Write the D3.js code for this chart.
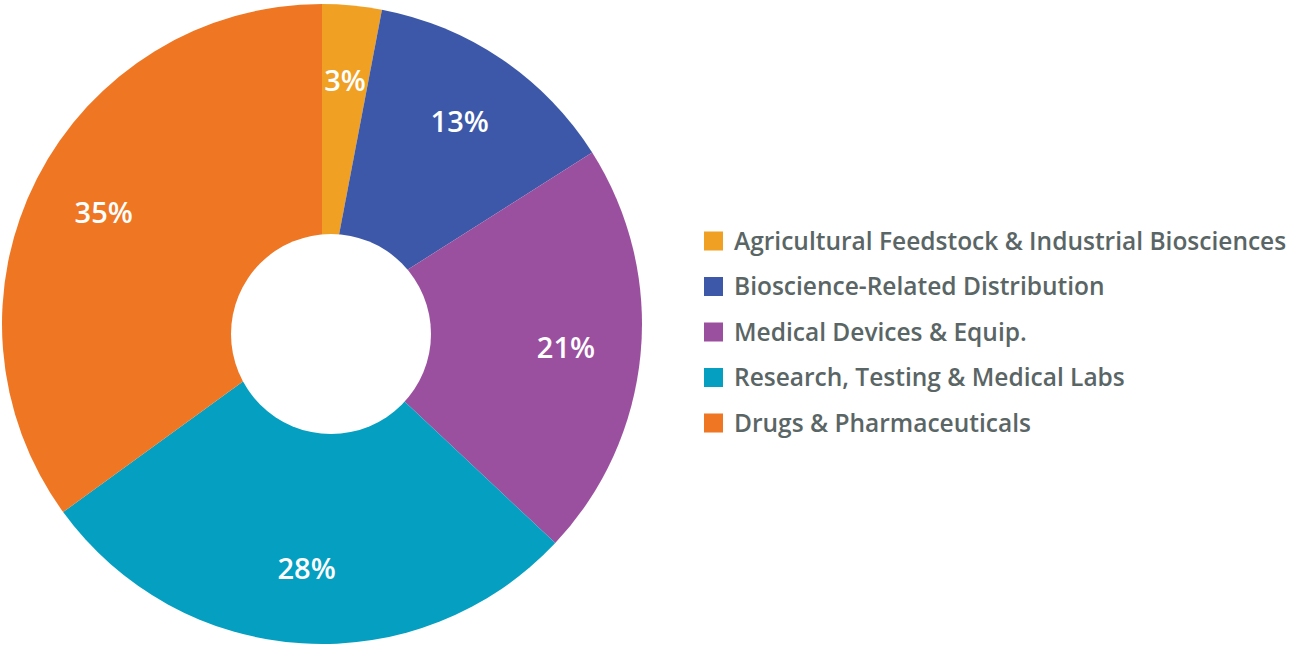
<!DOCTYPE html>
<html>
<head>
<meta charset="utf-8">
<script src="https://cdn.jsdelivr.net/npm/d3@7"></script>
<style>
  html, body { margin: 0; padding: 0; background: #fff; }
  #chart { width: 1289px; height: 646px; }
</style>
</head>
<body>
<div id="chart"></div>
<script>
//Datos
const categories = [
    'Agricultural Feedstock & Industrial Biosciences',
    'Bioscience-Related Distribution',
    'Medical Devices & Equip.',
    'Research, Testing & Medical Labs',
    'Drugs & Pharmaceuticals'
];
const values = [3, 13, 21, 28, 35];

//Colores
const colors = ['#F0A023', '#3D58A8', '#9B509F', '#049FC1', '#EF7622'];
const TEXT_COLOR = '#5A6565';

let width = 1289, height = 646;
let cx = 322, cy = 324, radius = 320;

let svg = d3.select('#chart')
    .append('svg')
    .attr('width', width)
    .attr('height', height);

let data = categories.map((c, i) => ({ name: c, value: values[i] }));

let color = d3.scaleOrdinal()
    .domain(categories)
    .range(colors);

let pie = d3.pie()
    .sort(null)
    .value(d => d.value);

let arc = d3.arc().innerRadius(0).outerRadius(radius);
let labelArc = d3.arc().innerRadius(245).outerRadius(245);

let g = svg.append('g')
    .attr('transform', 'translate(' + cx + ',' + cy + ')');

g.selectAll('path')
    .data(pie(data))
    .enter()
    .append('path')
    .attr('d', arc)
    .attr('fill', d => color(d.data.name));

//Agujero (ligeramente desplazado en el original)
g.append('circle')
    .attr('cx', 9)
    .attr('cy', 10)
    .attr('r', 100)
    .attr('fill', '#fff');

g.selectAll('text.pct')
    .data(pie(data))
    .enter()
    .append('text')
    .attr('class', 'pct')
    .attr('transform', d => 'translate(' + labelArc.centroid(d) + ')')
    .attr('text-anchor', 'middle')
    .attr('dy', '0.36em')
    .style('font-family', '"Open Sans", sans-serif')
    .style('font-weight', 600)
    .style('font-size', '29px')
    .style('fill', '#fff')
    .text(d => d.data.value + '%');

//Leyenda
let legend = svg.append('g')
    .attr('transform', 'translate(704,241)');

let item = legend.selectAll('g')
    .data(categories)
    .enter()
    .append('g')
    .attr('transform', (d, i) => 'translate(0,' + (i * 45.5) + ')');

item.append('rect')
    .attr('x', 0)
    .attr('y', -9.5)
    .attr('width', 19)
    .attr('height', 19)
    .attr('fill', d => color(d));

item.append('text')
    .attr('x', 30)
    .attr('dy', '0.36em')
    .style('font-family', '"Open Sans", sans-serif')
    .style('font-weight', 600)
    .style('font-size', '24.5px')
    .style('fill', TEXT_COLOR)
    .text(d => d);
</script>
</body>
</html>
